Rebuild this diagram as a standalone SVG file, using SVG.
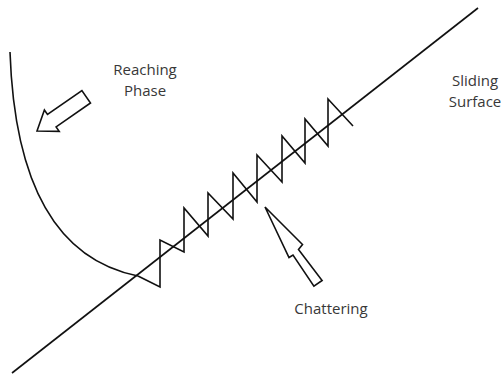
<svg xmlns="http://www.w3.org/2000/svg" width="501" height="378" viewBox="0 0 501 378">
<style>
.ln{fill:none;stroke:#111;stroke-width:1.6;stroke-linejoin:miter}
.ar{fill:#fff;stroke:#111;stroke-width:1.6;stroke-linejoin:miter}
.t{font-family:"Open Sans","Liberation Sans",sans-serif;font-size:15px;fill:#383838;text-anchor:middle}
</style>
<rect width="501" height="378" fill="#fff"/>
<g id="connectors">
<path id="reaching-curve" class="ln" d="M10,52 C14,170 48,258 138,276"/>
<line id="sliding-line" class="ln" x1="12" y1="373" x2="478" y2="8"/>
<polyline id="chatter-zigzag" class="ln" points="138,276 160,287 160,240 184,252 184,208 208,236 208,193 233,219 233,173 257,202 257,155 282,182 282,136 305,163 305,119 328,146 328,99 353,126"/>
</g>
<g id="reaching-arrow">
<polygon class="ar" points="37,131 44.4,110 47.5,114.5 81.9,90.6 90.5,103 56.1,126.9 59.2,131.4"/>
</g>
<g id="chattering-arrow">
<polygon class="ar" points="265,207 302.5,244.5 298.5,249.5 322.1,280.5 313.9,286.1 293,255 289,257.5"/>
</g>
<g id="reaching-label">
<text class="t" x="145" y="75">Reaching</text>
<text class="t" x="145" y="96">Phase</text>
</g>
<g id="sliding-label">
<text class="t" x="475" y="86">Sliding</text>
<text class="t" x="475" y="107">Surface</text>
</g>
<g id="chattering-label">
<text class="t" x="331" y="314">Chattering</text>
</g>
</svg>
